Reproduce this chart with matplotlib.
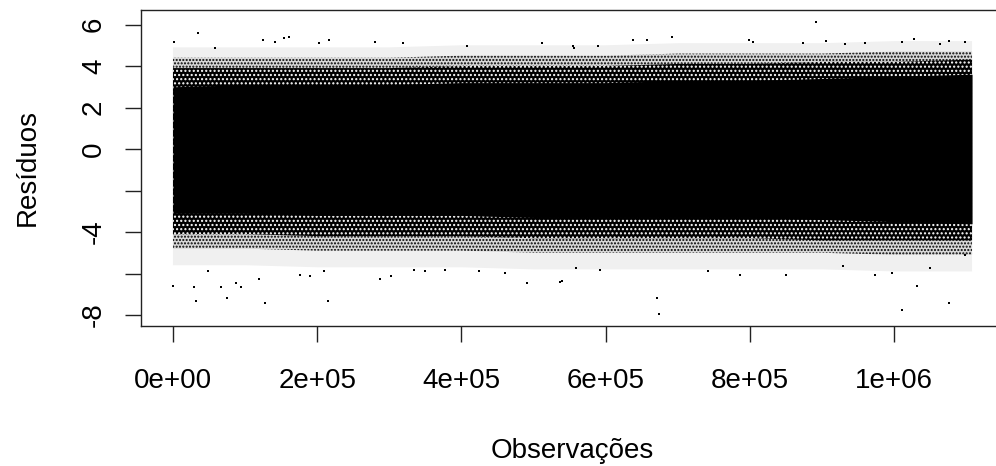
import matplotlib
matplotlib.use("Agg")
from matplotlib import pyplot as plt

plt.rcParams['font.family'] = ['Liberation Sans', 'DejaVu Sans']
plt.rcParams['hatch.linewidth'] = 1.0

# numero de observacoes (ultimo indice do grafico)
n_obs = 1108000

# contorno da faixa densa de residuos
band_x = [1, 100000, 200000, 300000, 400000, 500000, 600000, 700000,
          800000, 900000, 1000000, 1100000, 1108000]
solid_top = [3.0, 3.1, 3.1, 3.1, 3.2, 3.2, 3.2, 3.3, 3.3, 3.4, 3.5, 3.6, 3.6]
dense_top = [3.9, 3.9, 3.9, 3.9, 4.0, 4.0, 4.0, 4.1, 4.1, 4.2, 4.2, 4.3, 4.3]
mid_top = [4.4, 4.4, 4.4, 4.4, 4.5, 4.5, 4.5, 4.6, 4.6, 4.6, 4.7, 4.7, 4.7]
light_top = [4.9, 4.9, 4.9, 4.9, 5.0, 5.0, 5.0, 5.1, 5.1, 5.1, 5.2, 5.2, 5.2]
solid_bot = [-3.1, -3.1, -3.2, -3.2, -3.2, -3.3, -3.3, -3.3, -3.3, -3.4, -3.5, -3.6, -3.6]
dense_bot = [-4.1, -4.1, -4.2, -4.2, -4.2, -4.3, -4.3, -4.3, -4.3, -4.4, -4.4, -4.4, -4.4]
mid_bot = [-4.8, -4.8, -4.9, -4.9, -4.9, -5.0, -5.0, -5.0, -5.0, -5.0, -5.1, -5.1, -5.1]
light_bot = [-5.6, -5.6, -5.7, -5.7, -5.7, -5.8, -5.8, -5.8, -5.8, -5.8, -5.9, -5.9, -5.9]

# pontos isolados fora da faixa
out_x = [800, 34700, 58600, 124700, 141800, 153300, 160800, 202800, 217000,
         280400, 319600, 407500, 511400, 555300, 556600, 589900, 637600,
         657800, 691600, 798700, 804700, 874000, 891200, 905500, 932200,
         959500, 1010400, 1027400, 1063500, 1076000, 1098100,
         1, 29500, 31300, 48900, 66000, 75300, 87700, 94700, 119200, 127000,
         176400, 190300, 209700, 215200, 287700, 302900, 334000, 349700,
         377400, 424500, 460600, 490600, 536800, 539200, 559000, 592200,
         670800, 673600, 742300, 786300, 850000, 929500, 973400, 997400,
         1010400, 1032000, 1049600, 1076400, 1098100]
out_y = [5.14, 5.57, 4.89, 5.25, 5.14, 5.35, 5.41, 5.09, 5.25,
         5.14, 5.09, 4.98, 5.09, 4.98, 4.89, 4.98, 5.25,
         5.25, 5.41, 5.25, 5.14, 5.09, 6.14, 5.22, 5.06,
         5.09, 5.14, 5.30, 5.06, 5.22, 5.14,
         -6.58, -6.67, -7.34, -5.86, -6.67, -7.18, -6.46, -6.67, -6.25, -7.42,
         -6.05, -6.14, -5.89, -7.34, -6.25, -6.14, -5.81, -5.86,
         -5.81, -5.89, -5.97, -6.47, -6.41, -6.38, -5.73, -5.81,
         -7.18, -7.97, -5.89, -6.05, -6.05, -5.65, -6.05, -5.97,
         -7.76, -6.58, -5.73, -7.42, -5.12]

y_ticks = [-8, -6, -4, -2, 0, 2, 4, 6]
y_labels = ['-8', '', '-4', '', '0', '2', '4', '6']
x_ticks = [0, 200000, 400000, 600000, 800000, 1000000]
x_labels = ['0e+00', '2e+05', '4e+05', '6e+05', '8e+05', '1e+06']

fig = plt.figure(figsize=(9.96, 4.66), dpi=100)
ax = fig.add_axes([0.14157, 0.30043, 0.86647, 0.67811])

# franjas: de esparsa (fora) a quase preta (perto do centro)
ax.fill_between(band_x, light_bot, light_top, facecolor='#f0f0f0', lw=0)
ax.fill_between(band_x, mid_bot, mid_top, facecolor='#d8d8d8',
                edgecolor='black', hatch='.....', lw=0)
ax.fill_between(band_x, dense_bot, dense_top, facecolor='black',
                edgecolor='white', hatch='....', lw=0)
ax.fill_between(band_x, solid_bot, solid_top, color='black', lw=0)
ax.plot(out_x, out_y, 's', color='black', ms=2.0, mew=0)

ax.set_xlim(1 - 0.04 * n_obs, n_obs * 1.04)
ax.set_ylim(-8.53, 6.70)

ax.set_xticks(x_ticks, x_labels)
ax.set_yticks(y_ticks, y_labels)
ax.tick_params(axis='both', length=11.5, width=1.0, labelsize=20, color='#222222')
ax.tick_params(axis='x', pad=19)
ax.tick_params(axis='y', pad=13, labelrotation=90)
for lab in ax.get_yticklabels():
    lab.set_va('center')
for sp in ax.spines.values():
    sp.set_linewidth(1.0)
    sp.set_color('#222222')

fig.text(27.5 / 996, 1 - 168 / 466, 'Resíduos', rotation=90,
         ha='center', va='center', fontsize=20)
fig.text(572 / 996, 1 - 458 / 466, 'Observações',
         ha='center', va='baseline', fontsize=20)

fig.savefig('out.png', dpi=100)
